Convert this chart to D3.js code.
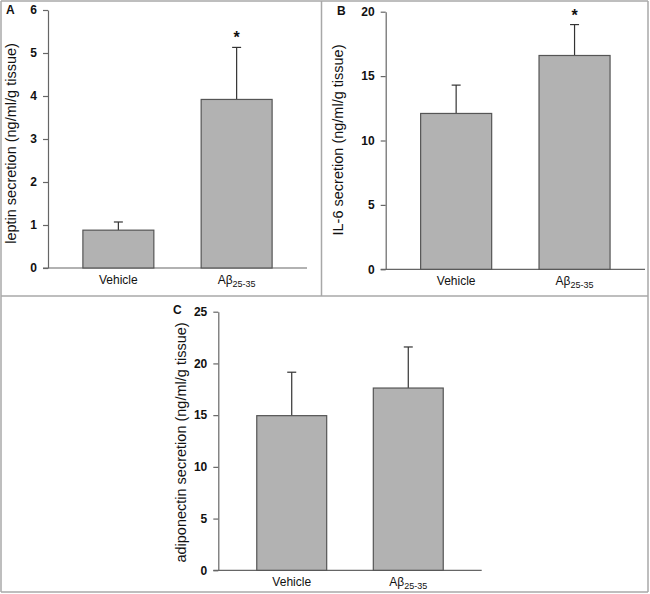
<!DOCTYPE html>
<html><head><meta charset="utf-8">
<script src="https://cdn.jsdelivr.net/npm/d3@7"></script>
<style>
html,body{margin:0;padding:0;background:#fff;}
svg{display:block;font-family:Arial,"Liberation Sans",sans-serif;}
</style></head>
<body><svg id="c" width="650" height="594"></svg>
<script>
// ---- data ----
const categories = ["Vehicle", "Aβ25-35"];
const leptinMeans = [0.88, 3.92];
const leptinSEM   = [0.19, 1.21];
const il6Means    = [12.1, 16.6];
const il6SEM      = [2.2, 2.4];
const adipoMeans  = [14.95, 17.62];
const adipoSEM    = [4.2, 3.97];
const leptinTicks = [0,1,2,3,4,5,6];
const il6Ticks    = [0,5,10,15,20];
const adipoTicks  = [0,5,10,15,20,25];
const significant = { leptin: [false, true], il6: [false, true], adipo: [false, false] };

const svg = d3.select("#c");

// panel frames
const frameColor = "#a8a8a8";
const frames = [
  [1,1,648,1],[1,1,1,592],[648,1,648,592],[1,592,648,592],
  [1,296,648,296],[321.5,1,321.5,296]
];
svg.selectAll("line.frame").data(frames).join("line")
  .attr("class","frame")
  .attr("x1",d=>d[0]).attr("y1",d=>d[1]).attr("x2",d=>d[2]).attr("y2",d=>d[3])
  .attr("stroke",frameColor).attr("stroke-width",1.5);

function panel(opts){
  const g = svg.append("g");
  const x = d3.scaleBand().domain(categories).range([opts.x0, opts.x1])
    .paddingInner(0.40).paddingOuter(opts.po);
  const y = d3.scaleLinear().domain([0, opts.max]).range([opts.y0, opts.y1]);

  // y axis
  const ya = g.append("g").attr("transform",`translate(${opts.x0},0)`)
    .call(d3.axisLeft(y).tickValues(opts.ticks).tickFormat(d3.format("d"))
      .tickSize(5).tickPadding(6).tickSizeOuter(0));
  ya.select(".domain").attr("stroke","#666").attr("stroke-width",1.2);
  ya.selectAll(".tick line").attr("stroke","#666").attr("stroke-width",1.2);
  ya.selectAll(".tick text").attr("font-size",12).attr("font-weight","bold")
    .attr("fill","#111").attr("font-family","Arial, 'Liberation Sans', sans-serif");

  // x axis line
  g.append("line").attr("x1",opts.x0-5).attr("x2",opts.x1)
    .attr("y1",y(0)).attr("y2",y(0)).attr("stroke","#666").attr("stroke-width",1.2);

  const data = categories.map((c,i)=>({c, m: opts.means[i], e: opts.sem[i], s: opts.sig[i]}));

  // error bars (upper only)
  data.forEach(d=>{
    const cx = x(d.c) + x.bandwidth()/2;
    g.append("line").attr("x1",cx).attr("x2",cx).attr("y1",y(d.m)).attr("y2",y(d.m+d.e))
      .attr("stroke","#333").attr("stroke-width",1.2);
    g.append("line").attr("x1",cx-4.5).attr("x2",cx+4.5).attr("y1",y(d.m+d.e)).attr("y2",y(d.m+d.e))
      .attr("stroke","#333").attr("stroke-width",1.2);
    if (d.s) {
      g.append("text").attr("x",cx).attr("y",y(d.m+d.e)-opts.starGap)
        .attr("text-anchor","middle").attr("font-size",16).attr("font-weight","bold")
        .attr("fill","#111").text("*");
    }
  });

  // bars
  g.selectAll("rect.bar").data(data).join("rect").attr("class","bar")
    .attr("x",d=>x(d.c)).attr("width",x.bandwidth())
    .attr("y",d=>y(d.m)).attr("height",d=>y(0)-y(d.m))
    .attr("fill","#b2b2b2").attr("stroke","#555").attr("stroke-width",1.2);

  // x labels
  data.forEach((d,i)=>{
    const cx = x(d.c) + x.bandwidth()/2;
    const t = g.append("text").attr("x",cx).attr("y",y(0)+16)
      .attr("text-anchor","middle").attr("font-size",12).attr("fill","#111");
    if (d.c.startsWith("Aβ")) {
      t.append("tspan").text("Aβ");
      t.append("tspan").attr("font-size",9).attr("dy",3).text(d.c.slice(2));
    } else t.text(d.c);
  });

  // y label
  g.append("text").attr("transform",`translate(${opts.labX},${opts.labY}) rotate(-90)`)
    .attr("text-anchor","middle").attr("font-size",14.5).attr("fill","#111").text(opts.label);

  // panel letter
  g.append("text").attr("x",opts.letterX).attr("y",opts.letterY)
    .attr("font-size",12).attr("font-weight","bold").attr("fill","#111").text(opts.letter);
}

panel({x0:48, x1:307, y0:268, y1:10, max:6, ticks:leptinTicks, po:0.295,
  means:leptinMeans, sem:leptinSEM, sig:significant.leptin, starGap:4,
  label:"leptin secretion (ng/ml/g tissue)", labX:16, labY:143.5,
  letter:"A", letterX:6, letterY:14});

panel({x0:385.7, x1:645, y0:269.3, y1:11.7, max:20, ticks:il6Ticks, po:0.295,
  means:il6Means, sem:il6SEM, sig:significant.il6, starGap:4,
  label:"IL-6 secretion (ng/ml/g tissue)", labX:343, labY:140,
  letter:"B", letterX:337, letterY:15});

panel({x0:218.3, x1:481.7, y0:570.3, y1:311.7, max:25, ticks:adipoTicks, po:0.33,
  means:adipoMeans, sem:adipoSEM, sig:significant.adipo, starGap:4,
  label:"adiponectin secretion (ng/ml/g tissue)", labX:186, labY:442.5,
  letter:"C", letterX:173, letterY:314});
</script></body></html>
